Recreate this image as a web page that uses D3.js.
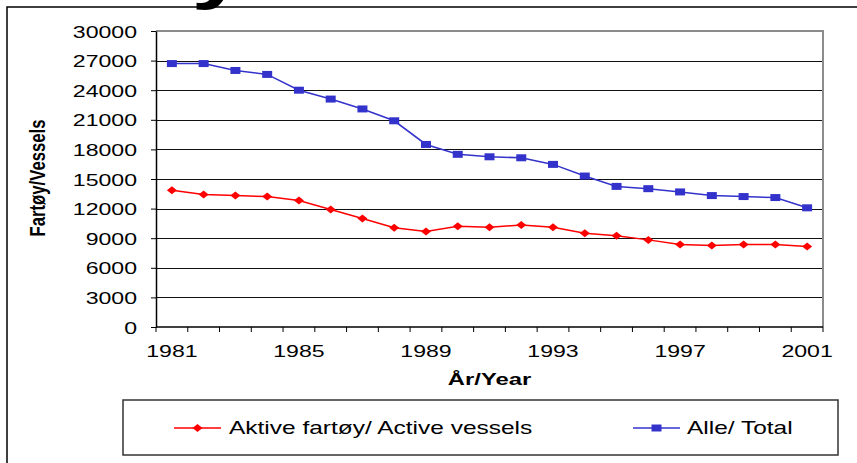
<!DOCTYPE html>
<html>
<head>
<meta charset="utf-8">
<script src="https://cdn.jsdelivr.net/npm/d3@7"></script>
<style>
  body { margin: 0; background: #fff; }
  svg { display: block; font-family: Arial, "Liberation Sans", sans-serif; }
</style>
</head>
<body>
<div id="chart"></div>
<script>
const years = d3.range(1981, 2002);
const labelYears = [1981, 1985, 1989, 1993, 1997, 2001];
const yTicks = [0, 3000, 6000, 9000, 12000, 15000, 18000, 21000, 24000, 27000, 30000];

// Aktive fartøy / Active vessels
const activeVessels = [13850, 13420, 13320, 13220, 12810, 11900, 10990, 10070, 9670, 10200,
    10100, 10340, 10110, 9500, 9260, 8830, 8350, 8250, 8350, 8350, 8150];
// Alle / Total
const totalVessels = [26700, 26700, 26000, 25600, 24000, 23100, 22100, 20900, 18500, 17500,
    17250, 17150, 16480, 15300, 14250, 14020, 13690, 13320, 13220, 13120, 12080];

const seriesNames = ["Aktive fartøy/ Active vessels", "Alle/ Total"];

const width = 857, height = 463;
const stretch = 1.4; // text in the picture is widened horizontally

const svg = d3.select("#chart").append("svg")
    .attr("width", width)
    .attr("height", height);

const plot = { left: 156, right: 823, top: 31, bottom: 327 };

const x = d3.scaleBand().domain(years).range([plot.left, plot.right]).padding(0);
const y = d3.scaleLinear().domain([0, 30000]).range([plot.bottom, plot.top]);
const cx = d => x(d) + x.bandwidth() / 2;

// helper for widened text
function wideText(g, tx, ty, str, opts) {
    const t = g.append("text")
        .attr("transform", `translate(${tx},${ty}) scale(${stretch},1)` + (opts.rotate ? ` rotate(${opts.rotate})` : ""))
        .attr("text-anchor", opts.anchor || "start")
        .style("font-size", opts.size + "px")
        .style("font-weight", opts.bold ? "bold" : "normal")
        .attr("fill", "#000")
        .text(str);
    return t;
}

// title sits above the picture, only the tail of its last letter shows
wideText(svg, 246, -5, "Antall fartøy", { size: 70, bold: true, anchor: "end" });

// outer chart frame
svg.append("rect")
    .attr("x", 7).attr("y", 7)
    .attr("width", 900).attr("height", 500)
    .attr("fill", "none")
    .attr("stroke", "#000")
    .attr("stroke-width", 1.5);

// grid lines
svg.append("g")
    .selectAll("line")
    .data(yTicks.filter(d => d > 0 && d < 30000))
    .enter().append("line")
    .attr("x1", plot.left).attr("x2", plot.right)
    .attr("y1", d => Math.round(y(d)) + 0.5)
    .attr("y2", d => Math.round(y(d)) + 0.5)
    .attr("stroke", "#111")
    .attr("stroke-width", 1);

// plot area border (top and right, gray)
svg.append("path")
    .attr("d", `M${plot.left},${plot.top} H${plot.right} V${plot.bottom}`)
    .attr("fill", "none")
    .attr("stroke", "#8c8c8c")
    .attr("stroke-width", 2);

// y axis
const yAxis = svg.append("g")
    .attr("transform", `translate(${plot.left},0)`)
    .call(d3.axisLeft(y).tickValues(yTicks).tickSize(5).tickSizeOuter(0).tickFormat(d => d));
yAxis.select(".domain").attr("stroke", "#000").attr("stroke-width", 1.5);
yAxis.selectAll(".tick line").attr("stroke", "#000");
yAxis.selectAll(".tick text")
    .attr("x", null).attr("dy", null)
    .attr("transform", `translate(-19,6) scale(${stretch},1)`)
    .style("font-size", "16.5px")
    .style("font-family", "Arial, 'Liberation Sans', sans-serif")
    .attr("fill", "#000");

// x axis: labels centred in categories, ticks on category edges
const xAxis = svg.append("g")
    .attr("transform", `translate(0,${plot.bottom})`)
    .call(d3.axisBottom(x).tickValues(labelYears).tickSize(0).tickPadding(0));
xAxis.select(".domain").remove();
xAxis.selectAll(".tick text")
    .attr("y", null).attr("dy", null)
    .attr("transform", `translate(0,30) scale(${stretch},1)`)
    .style("font-size", "16.5px")
    .style("font-family", "Arial, 'Liberation Sans', sans-serif")
    .attr("fill", "#000");

svg.append("line")
    .attr("x1", plot.left).attr("x2", plot.right)
    .attr("y1", plot.bottom).attr("y2", plot.bottom)
    .attr("stroke", "#000").attr("stroke-width", 1.5);

svg.append("g")
    .selectAll("line")
    .data(years.map(d => x(d)).concat([plot.right]))
    .enter().append("line")
    .attr("x1", d => d).attr("x2", d => d)
    .attr("y1", plot.bottom).attr("y2", plot.bottom + 5)
    .attr("stroke", "#000");

// axis titles
wideText(svg, (plot.left + plot.right) / 2, 385, "År/Year", { size: 17, bold: true, anchor: "middle" });
wideText(svg, 45, 178, "Fartøy/Vessels", { size: 16, bold: true, anchor: "middle", rotate: -90 })
    .attr("textLength", 117)
    .attr("lengthAdjust", "spacingAndGlyphs");

// series
const blue = "#3333cc", red = "#ff0000";
const line = d3.line().x((d, i) => cx(years[i])).y(d => y(d));

svg.append("path")
    .datum(totalVessels)
    .attr("d", line)
    .attr("fill", "none")
    .attr("stroke", blue)
    .attr("stroke-width", 1.5);

svg.append("path")
    .datum(activeVessels)
    .attr("d", line)
    .attr("fill", "none")
    .attr("stroke", red)
    .attr("stroke-width", 1.5);

const square = "M-5,-3.5H5V3.5H-5Z";
const diamond = "M0,-4L5,0L0,4L-5,0Z";

svg.append("g")
    .selectAll("path")
    .data(totalVessels)
    .enter().append("path")
    .attr("d", square)
    .attr("transform", (d, i) => `translate(${cx(years[i])},${y(d)})`)
    .attr("fill", blue);

svg.append("g")
    .selectAll("path")
    .data(activeVessels)
    .enter().append("path")
    .attr("d", diamond)
    .attr("transform", (d, i) => `translate(${cx(years[i])},${y(d)})`)
    .attr("fill", red);

// legend
const legend = svg.append("g");
legend.append("rect")
    .attr("x", 123).attr("y", 400)
    .attr("width", 715).attr("height", 55)
    .attr("fill", "#fff")
    .attr("stroke", "#333")
    .attr("stroke-width", 1.5);

const legendItems = [
    { name: seriesNames[0], color: red, shape: diamond, x0: 174, tx: 229 },
    { name: seriesNames[1], color: blue, shape: square, x0: 633, tx: 687 }
];
const ly = 428;
legendItems.forEach(it => {
    legend.append("line")
        .attr("x1", it.x0).attr("x2", it.x0 + 47)
        .attr("y1", ly).attr("y2", ly)
        .attr("stroke", it.color).attr("stroke-width", 1.5);
    legend.append("path")
        .attr("d", it.shape)
        .attr("transform", `translate(${it.x0 + 23.5},${ly})`)
        .attr("fill", it.color);
    wideText(legend, it.tx, ly + 6, it.name, { size: 17.5 });
});
</script>
</body>
</html>
